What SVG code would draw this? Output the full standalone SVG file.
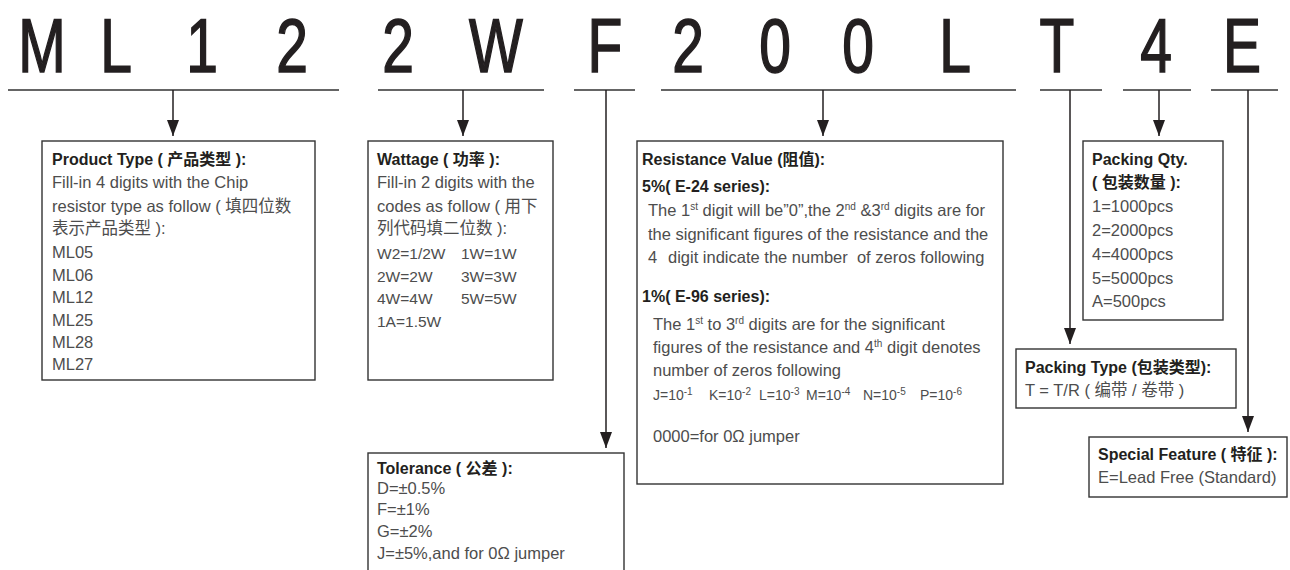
<svg xmlns="http://www.w3.org/2000/svg" width="1290" height="570" viewBox="0 0 1290 570">
<style>
text{font-family:"Liberation Sans","Noto Sans CJK SC",sans-serif}
.big{font-size:76px;fill:#231f20;stroke:#231f20;stroke-width:1.6;text-anchor:middle}
.h{font-size:16px;font-weight:bold;fill:#231f20}
.b{font-size:16.5px;fill:#4d4d4d}
.s{font-size:15.5px;fill:#4d4d4d}
.j{font-size:14px;fill:#4d4d4d}
.sup{font-size:10px}
.box{fill:#fff;stroke:#333;stroke-width:1.4}
.ul{stroke:#333;stroke-width:1.5;fill:none}
.cn{stroke:#231f20;stroke-width:1.5;fill:none;marker-end:url(#ah)}
</style>
<defs>
<marker id="ah" markerUnits="userSpaceOnUse" viewBox="0 -6 16 12" refX="16" refY="0" markerWidth="16" markerHeight="12" orient="auto">
<path d="M0,-6 L16,0 L0,6 Z" fill="#231f20"/>
</marker>
</defs>
<rect width="1290" height="570" fill="#fff"/>

<g id="code">
<text class="big" transform="translate(42,72) scale(0.75,1)">M</text>
<text class="big" transform="translate(116,72) scale(0.75,1)">L</text>
<text class="big" transform="translate(202,72) scale(0.75,1)">1</text>
<text class="big" transform="translate(292,72) scale(0.75,1)">2</text>
<text class="big" transform="translate(398,72) scale(0.75,1)">2</text>
<text class="big" transform="translate(496,72) scale(0.75,1)">W</text>
<text class="big" transform="translate(605,72) scale(0.75,1)">F</text>
<text class="big" transform="translate(688,72) scale(0.75,1)">2</text>
<text class="big" transform="translate(775,72) scale(0.75,1)">0</text>
<text class="big" transform="translate(858,72) scale(0.75,1)">0</text>
<text class="big" transform="translate(955,72) scale(0.75,1)">L</text>
<text class="big" transform="translate(1057,72) scale(0.75,1)">T</text>
<text class="big" transform="translate(1156,72) scale(0.75,1)">4</text>
<text class="big" transform="translate(1242,72) scale(0.75,1)">E</text>
<path class="ul" d="M8,90H339 M378,90H544 M574,90H635 M661,90H1016 M1040,90H1102 M1123,90H1191 M1211,90H1278"/>
</g>

<g id="connectors">
<path class="cn" d="M173,90V136"/>
<path class="cn" d="M463,90V136"/>
<path class="cn" d="M606,90V448"/>
<path class="cn" d="M823,90V136"/>
<path class="cn" d="M1070,90V344"/>
<path class="cn" d="M1159,90V136"/>
<path class="cn" d="M1248,90V432"/>
</g>

<g id="product-type">
<rect class="box" x="42" y="141" width="273" height="239"/>
<text class="h" x="52" y="165">Product Type ( 产品类型 ):</text>
<text class="b" x="52" y="188">Fill-in 4 digits with the Chip</text>
<text class="b" x="52" y="212">resistor type as follow ( 填四位数</text>
<text class="b" x="52" y="234">表示产品类型 ):</text>
<text class="b" x="52" y="258">ML05</text>
<text class="b" x="52" y="281">ML06</text>
<text class="b" x="52" y="303">ML12</text>
<text class="b" x="52" y="326">ML25</text>
<text class="b" x="52" y="348">ML28</text>
<text class="b" x="52" y="370">ML27</text>
</g>

<g id="wattage">
<rect class="box" x="368" y="141" width="185" height="239"/>
<text class="h" x="377" y="165">Wattage ( 功率 ):</text>
<text class="b" x="377" y="188">Fill-in 2 digits with the</text>
<text class="b" x="377" y="212">codes as follow ( 用下</text>
<text class="b" x="377" y="234">列代码填二位数 ):</text>
<text class="s" x="377" y="259">W2=1/2W</text>
<text class="s" x="461" y="259">1W=1W</text>
<text class="s" x="377" y="282">2W=2W</text>
<text class="s" x="461" y="282">3W=3W</text>
<text class="s" x="377" y="304">4W=4W</text>
<text class="s" x="461" y="304">5W=5W</text>
<text class="s" x="377" y="327">1A=1.5W</text>
</g>

<g id="tolerance">
<rect class="box" x="368" y="453" width="256" height="130"/>
<text class="h" x="377" y="474">Tolerance ( 公差 ):</text>
<text class="b" x="377" y="494">D=±0.5%</text>
<text class="b" x="377" y="515">F=±1%</text>
<text class="b" x="377" y="537">G=±2%</text>
<text class="b" x="377" y="559">J=±5%,and for 0Ω jumper</text>
</g>

<g id="resistance-value">
<rect class="box" x="637" y="141" width="366" height="343"/>
<text class="h" x="642" y="165">Resistance Value (阻值):</text>
<text class="h" x="642" y="192">5%( E-24 series):</text>
<text class="b" x="648" y="216">The 1<tspan class="sup" dy="-6">st</tspan><tspan dy="6"> digit will be”0”,the 2</tspan><tspan class="sup" dy="-6">nd</tspan><tspan dy="6"> &amp;3</tspan><tspan class="sup" dy="-6">rd</tspan><tspan dy="6"> digits are for</tspan></text>
<text class="b" x="648" y="240">the significant figures of the resistance and the</text>
<text class="b" y="263" xml:space="preserve"><tspan x="648">4</tspan><tspan x="668">digit indicate the number  of zeros following</tspan></text>
<text class="h" x="642" y="302">1%( E-96 series):</text>
<text class="b" x="653" y="330">The 1<tspan class="sup" dy="-6">st</tspan><tspan dy="6"> to 3</tspan><tspan class="sup" dy="-6">rd</tspan><tspan dy="6"> digits are for the significant</tspan></text>
<text class="b" x="653" y="353">figures of the resistance and 4<tspan class="sup" dy="-6">th</tspan><tspan dy="6"> digit denotes</tspan></text>
<text class="b" x="653" y="376">number of zeros following</text>
<text class="j" y="400"><tspan x="653">J=10</tspan><tspan class="sup" dy="-5">-1</tspan><tspan x="709" dy="5">K=10</tspan><tspan class="sup" dy="-5">-2</tspan><tspan x="759" dy="5">L=10</tspan><tspan class="sup" dy="-5">-3</tspan><tspan x="806" dy="5">M=10</tspan><tspan class="sup" dy="-5">-4</tspan><tspan x="863" dy="5">N=10</tspan><tspan class="sup" dy="-5">-5</tspan><tspan x="920" dy="5">P=10</tspan><tspan class="sup" dy="-5">-6</tspan></text>
<text class="b" x="653" y="442">0000=for 0Ω jumper</text>
</g>

<g id="packing-qty">
<rect class="box" x="1083" y="141" width="140" height="179"/>
<text class="h" x="1092" y="165">Packing Qty.</text>
<text class="h" x="1092" y="188">( 包装数量 ):</text>
<text class="b" x="1092" y="212">1=1000pcs</text>
<text class="b" x="1092" y="236">2=2000pcs</text>
<text class="b" x="1092" y="260">4=4000pcs</text>
<text class="b" x="1092" y="284">5=5000pcs</text>
<text class="b" x="1092" y="307">A=500pcs</text>
</g>

<g id="packing-type">
<rect class="box" x="1016" y="349" width="220" height="59"/>
<text class="h" x="1025" y="373">Packing Type (包装类型):</text>
<text class="b" x="1025" y="396">T = T/R ( 编带 / 卷带 )</text>
</g>

<g id="special-feature">
<rect class="box" x="1089" y="437" width="198" height="60"/>
<text class="h" x="1098" y="460">Special Feature ( 特征 ):</text>
<text class="b" x="1098" y="483">E=Lead Free (Standard)</text>
</g>
</svg>
